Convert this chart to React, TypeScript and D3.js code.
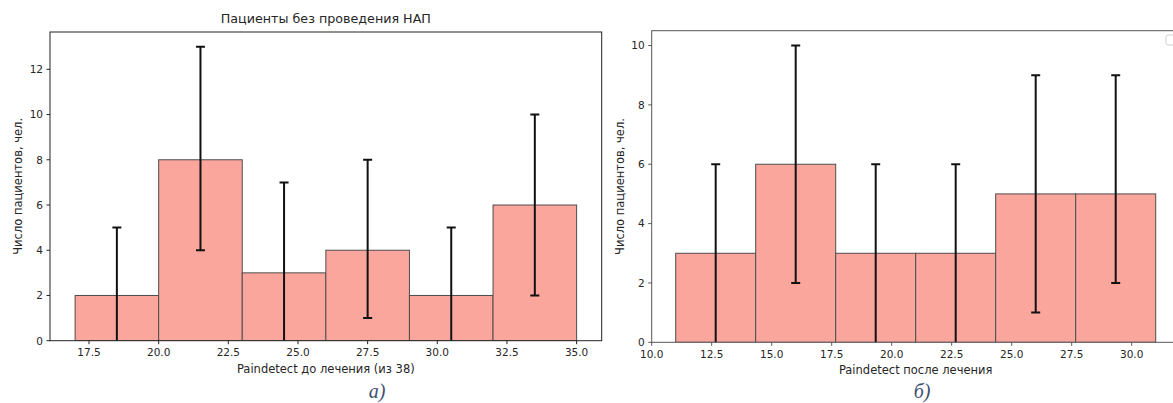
import * as d3 from "d3";

// panel a) — before treatment
const binsA = [17, 20, 23, 26, 29, 32, 35];
const countsA = [2, 8, 3, 4, 2, 6];
const errLowA = [-1, 4, -1, 1, -1, 2];
const errHighA = [5, 13, 7, 8, 5, 10];
const xTicksA = [17.5, 20, 22.5, 25, 27.5, 30, 32.5, 35];
const yTicksA = [0, 2, 4, 6, 8, 10, 12];

// panel б) — after treatment
const binsB = [11, 14.333, 17.667, 21, 24.333, 27.667, 31];
const countsB = [3, 6, 3, 3, 5, 5];
const errLowB = [-1, 2, -1, -1, 1, 2];
const errHighB = [6, 10, 6, 6, 9, 9];
const xTicksB = [10, 12.5, 15, 17.5, 20, 22.5, 25, 27.5, 30];
const yTicksB = [0, 2, 4, 6, 8, 10];

const font = "DejaVu Sans, sans-serif";
const textColor = "#262626";

type PanelProps = {
  id: string;
  left: number;
  right: number;
  top: number;
  bottom: number;
  xDomain: [number, number];
  yMax: number;
  bins: number[];
  counts: number[];
  errLow: number[];
  errHigh: number[];
  xTicks: number[];
  yTicks: number[];
  xLabel: string;
  yLabelX: number;
  title?: string;
  spine: string;
};

function Panel(p: PanelProps) {
  const x = d3.scaleLinear().domain(p.xDomain).range([p.left, p.right]);
  const y = d3.scaleLinear().domain([0, p.yMax]).range([p.bottom, p.top]);
  const midX = (p.left + p.right) / 2;
  const midY = (p.top + p.bottom) / 2;
  return (
    <g fontFamily={font}>
      <defs>
        <clipPath id={`clip-${p.id}`}>
          <rect x={p.left} y={p.top} width={p.right - p.left} height={p.bottom - p.top} />
        </clipPath>
      </defs>
      <g clipPath={`url(#clip-${p.id})`}>
        {p.counts.map((c, i) => (
          <rect
            key={i}
            x={x(p.bins[i])}
            y={y(c)}
            width={x(p.bins[i + 1]) - x(p.bins[i])}
            height={y(0) - y(c)}
            fill="#FBA69C"
            stroke="#4d4d4d"
            strokeWidth={1}
          />
        ))}
        {p.counts.map((_, i) => {
          const cx = (x(p.bins[i]) + x(p.bins[i + 1])) / 2;
          return (
            <g key={i} stroke="#111" strokeWidth={2}>
              <line x1={cx} x2={cx} y1={y(p.errLow[i])} y2={y(p.errHigh[i])} />
              <line x1={cx - 4.5} x2={cx + 4.5} y1={y(p.errHigh[i])} y2={y(p.errHigh[i])} />
              <line x1={cx - 4.5} x2={cx + 4.5} y1={y(p.errLow[i])} y2={y(p.errLow[i])} />
            </g>
          );
        })}
      </g>
      <rect x={p.left} y={p.top} width={p.right - p.left} height={p.bottom - p.top} fill="none" stroke={p.spine} strokeWidth={1} />
      {p.xTicks.map((t) => (
        <g key={t}>
          <line x1={x(t)} x2={x(t)} y1={p.bottom} y2={p.bottom + 3.5} stroke={p.spine} />
          <text x={x(t)} y={p.bottom + 15.5} textAnchor="middle" fontSize={10.5} fill={textColor}>{t.toFixed(1)}</text>
        </g>
      ))}
      {p.yTicks.map((t) => (
        <g key={t}>
          <line x1={p.left - 3.5} x2={p.left} y1={y(t)} y2={y(t)} stroke={p.spine} />
          <text x={p.left - 7} y={y(t) + 3.8} textAnchor="end" fontSize={10.5} fill={textColor}>{t}</text>
        </g>
      ))}
      <text x={midX} y={p.bottom + 32} textAnchor="middle" fontSize={11.5} fill={textColor}>{p.xLabel}</text>
      <text transform={`translate(${p.yLabelX},${midY}) rotate(-90)`} textAnchor="middle" fontSize={11.5} fill={textColor}>
        Число пациентов, чел.
      </text>
      {p.title && (
        <text x={midX} y={p.top - 9} textAnchor="middle" fontSize={12.7} fill={textColor}>{p.title}</text>
      )}
    </g>
  );
}

export default function App() {
  return (
    <svg
      width={1173}
      height={403}
      viewBox="0 0 1173 403"
      style={{ position: "absolute", left: 0, top: 0, background: "#fff" }}
    >
      <rect x={0} y={0} width={1173} height={403} fill="#fff" />
      <Panel
        id="a"
        left={50}
        right={601.7}
        top={32}
        bottom={340.7}
        xDomain={[16.1, 35.9]}
        yMax={13.65}
        bins={binsA}
        counts={countsA}
        errLow={errLowA}
        errHigh={errHighA}
        xTicks={xTicksA}
        yTicks={yTicksA}
        xLabel="Paindetect до лечения (из 38)"
        yLabelX={22}
        title="Пациенты без проведения НАП"
        spine="#222"
      />
      <Panel
        id="b"
        left={651.7}
        right={1179.7}
        top={30.7}
        bottom={342.3}
        xDomain={[10, 32]}
        yMax={10.5}
        bins={binsB}
        counts={countsB}
        errLow={errLowB}
        errHigh={errHighB}
        xTicks={xTicksB}
        yTicks={yTicksB}
        xLabel="Paindetect после лечения"
        yLabelX={624}
        spine="#555"
      />
      <rect x={1166} y={35} width={20} height={10} rx={2} fill="#fff" stroke="#d0d0d0" />
      <text x={377} y={398} textAnchor="middle" fontFamily="Liberation Serif, serif" fontStyle="italic" fontSize={20} fill="#3E5070">а)</text>
      <text x={922} y={398} textAnchor="middle" fontFamily="Liberation Serif, serif" fontStyle="italic" fontSize={20} fill="#3E5070">б)</text>
    </svg>
  );
}
